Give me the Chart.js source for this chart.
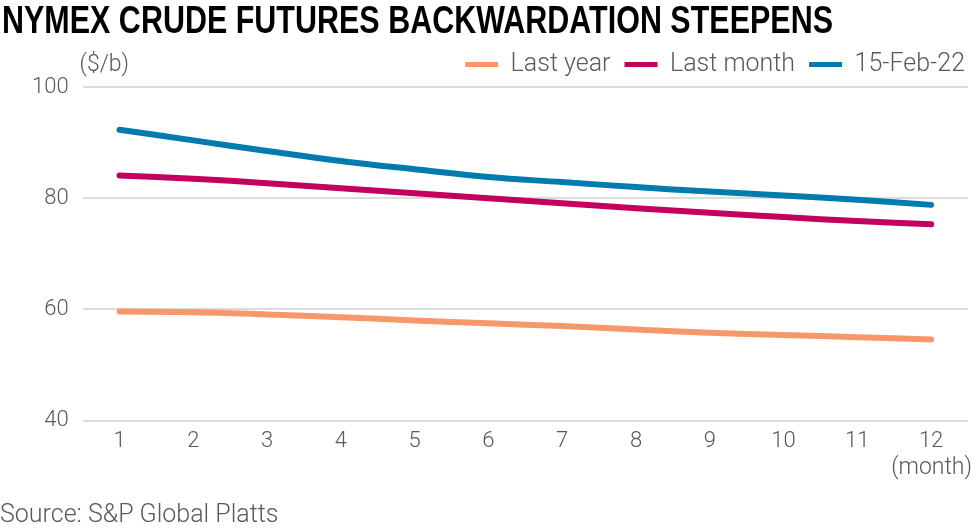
<!DOCTYPE html>
<html>
<head>
<meta charset="utf-8">
<script src="https://cdn.jsdelivr.net/npm/chart.js@4.4.1/dist/chart.umd.min.js"></script>
<style>
  html, body { margin: 0; padding: 0; background: #fff; }
  #wrap { width: 979px; height: 531px; }
</style>
</head>
<body>
<div id="wrap"><canvas id="chart"></canvas></div>
<script>
const months = ['1', '2', '3', '4', '5', '6', '7', '8', '9', '10', '11', '12'];
const lastYear = [59.6, 59.5, 59.1, 58.6, 58.0, 57.5, 57.0, 56.4, 55.8, 55.4, 55.0, 54.6];
const lastMonth = [84.1, 83.5, 82.7, 81.8, 80.9, 80.0, 79.1, 78.2, 77.4, 76.6, 75.9, 75.3];
const feb15 = [92.3, 90.4, 88.5, 86.7, 85.2, 83.8, 82.9, 82.0, 81.2, 80.5, 79.7, 78.8];
const yTicks = [40, 60, 80, 100];

const titleText = 'NYMEX CRUDE FUTURES BACKWARDATION STEEPENS';
const textColor = '#555a5f';
const baseFont = 'Roboto, "Noto Sans", sans-serif';

// condensed headline plus the unit labels next to the axes
const extraText = {
    id: 'extraText',
    afterDraw(chart) {
        const { ctx, chartArea } = chart;
        ctx.save();
        ctx.fillStyle = '#000';
        ctx.font = 'bold 38px "Liberation Sans Narrow", "Liberation Sans", sans-serif';
        ctx.textBaseline = 'alphabetic';
        ctx.textAlign = 'left';
        const w = ctx.measureText(titleText).width;
        ctx.translate(2, 33);
        ctx.scale(831 / w, 1);
        ctx.fillText(titleText, 0, 0);
        ctx.restore();

        ctx.save();
        ctx.fillStyle = textColor;
        ctx.font = '300 23px ' + baseFont;
        ctx.textBaseline = 'middle';
        ctx.textAlign = 'left';
        ctx.fillText('($/b)', chartArea.left - 3, chartArea.top - 22);
        ctx.textAlign = 'right';
        ctx.fillText('(month)', chartArea.right + 4, chartArea.bottom + 48);
        ctx.restore();
    }
};

const line = (label, data, color) => ({
    label: label,
    data: data,
    borderColor: color,
    backgroundColor: color,
    borderWidth: 6,
    borderCapStyle: 'round',
    pointRadius: 0,
    tension: 0.4
});

const ctx = document.getElementById('chart').getContext('2d');
new Chart(ctx, {
    type: 'line',
    data: {
        labels: months,
        datasets: [
            line('Last year', lastYear, '#f7986a'),
            line('Last month', lastMonth, '#c4005e'),
            line('15-Feb-22', feb15, '#007bad')
        ]
    },
    options: {
        responsive: true,
        maintainAspectRatio: false,
        animation: false,
        layout: { padding: { left: 0, right: 0, top: 38, bottom: 0 } },
        plugins: {
            title: { display: false },
            subtitle: {
                display: true,
                position: 'bottom',
                text: 'Source: S&P Global Platts',
                align: 'start',
                color: textColor,
                font: { family: baseFont, size: 25, weight: 300 },
                padding: { top: 46, bottom: 0 }
            },
            legend: {
                position: 'top',
                align: 'end',
                labels: {
                    color: textColor,
                    font: { family: baseFont, size: 25, weight: 300 },
                    boxWidth: 33,
                    boxHeight: 5,
                    padding: 14,
                    generateLabels(chart) {
                        return chart.data.datasets.map((ds, i) => ({
                            text: ds.label,
                            fillStyle: ds.borderColor,
                            strokeStyle: ds.borderColor,
                            lineWidth: 0,
                            fontColor: textColor,
                            datasetIndex: i
                        }));
                    }
                }
            },
            tooltip: { enabled: false }
        },
        scales: {
            x: {
                offset: true,
                grid: { display: false },
                border: { display: false },
                ticks: {
                    color: textColor,
                    font: { family: baseFont, size: 22, weight: 300 },
                    padding: 0
                }
            },
            y: {
                min: 40,
                max: 100,
                afterBuildTicks(axis) {
                    axis.ticks = yTicks.map(v => ({ value: v }));
                },
                afterFit(axis) { axis.width += 18; },
                grid: { color: '#dcdcdc', lineWidth: 2, drawTicks: false },
                border: { display: false },
                ticks: {
                    color: textColor,
                    font: { family: baseFont, size: 22, weight: 300 },
                    padding: 14
                }
            },
            // empty strip that keeps the plot clear of the right edge
            gap: {
                position: 'right',
                display: true,
                grid: { display: false },
                border: { display: false },
                ticks: { display: false },
                afterFit(axis) { axis.width = 11; }
            }
        }
    },
    plugins: [extraText]
});
</script>
</body>
</html>
